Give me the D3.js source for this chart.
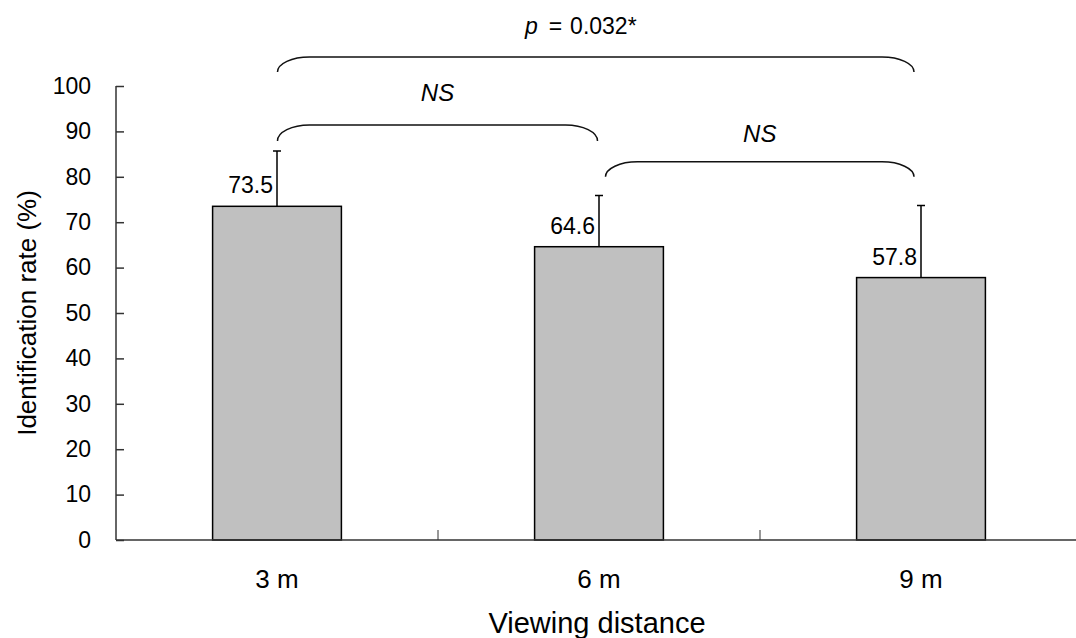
<!DOCTYPE html>
<meta charset="utf-8">
<style>
  body { margin: 0; background: #fff; }
  svg text { font-family: "Liberation Sans", Arial, sans-serif; fill: #000; }
</style>
<body>
<div id="chart"></div>

<script src="https://d3js.org/d3.v7.min.js"></script>
<script>
// data
var categories = ["3 m", "6 m", "9 m"];
var means = [73.5, 64.6, 57.8];
var sds = [12.2, 11.3, 15.9];
var yTicks = [0, 10, 20, 30, 40, 50, 60, 70, 80, 90, 100];

// pairwise comparisons (indices into categories)
var compFrom = [0, 0, 1];
var compTo = [2, 1, 2];
var compLabels = ["p = 0.032*", "NS", "NS"];

var margin = {top: 86, right: -6, bottom: 98, left: 116},
    width = 1076 - margin.left - margin.right,
    height = 638 - margin.top - margin.bottom;

var x = d3.scaleBand().domain(categories).range([0, width]).padding(0);
var y = d3.scaleLinear().domain([0, 100]).range([height, 0]);
var barW = x.bandwidth() * 0.4;
var cx = function(i) { return x(categories[i]) + x.bandwidth() / 2; };

var svg = d3.select("#chart").append("svg")
    .attr("width", 1076)
    .attr("height", 638)
  .append("g")
    .attr("transform", "translate(" + margin.left + "," + margin.top + ")");

// bars
svg.selectAll(".bar")
    .data(means)
  .enter().append("rect")
    .attr("class", "bar")
    .attr("x", function(d, i) { return cx(i) - barW / 2; })
    .attr("y", function(d) { return y(d); })
    .attr("width", barW)
    .attr("height", function(d) { return height - y(d); })
    .style("fill", "#c0c0c0")
    .style("stroke", "#000")
    .style("stroke-width", "1.5px");

// error bars (upper only)
svg.selectAll(".err")
    .data(means)
  .enter().append("path")
    .attr("class", "err")
    .attr("d", function(d, i) {
      var top = y(d + sds[i]);
      return "M" + cx(i) + "," + y(d) + "V" + top +
             "M" + (cx(i) - 4) + "," + top + "H" + (cx(i) + 4);
    })
    .style("fill", "none")
    .style("stroke", "#000")
    .style("stroke-width", "1.5px");

// value labels
svg.selectAll(".val")
    .data(means)
  .enter().append("text")
    .attr("class", "val")
    .attr("x", function(d, i) { return cx(i) - 4; })
    .attr("y", function(d) { return y(d) - 13; })
    .attr("text-anchor", "end")
    .style("font-size", "23px")
    .text(function(d) { return d.toFixed(1); });

// y axis
var yAxis = svg.append("g")
    .call(d3.axisLeft(y).tickValues(yTicks).tickSize(-8).tickPadding(25));
yAxis.selectAll("text").style("font-size", "23px");
yAxis.select(".domain").attr("d", "M0," + height + "V0").style("stroke", "#333").style("stroke-width", "1.5px");
yAxis.selectAll(".tick line").style("stroke", "#333").style("stroke-width", "1.5px");

// x axis line with ticks at category boundaries
svg.append("line")
    .attr("x1", 0).attr("x2", width)
    .attr("y1", height).attr("y2", height)
    .style("stroke", "#333").style("stroke-width", "1.5px");
svg.selectAll(".xtick")
    .data(categories.slice(1))
  .enter().append("line")
    .attr("x1", function(d) { return x(d); })
    .attr("x2", function(d) { return x(d); })
    .attr("y1", height).attr("y2", height - 10)
    .style("stroke", "#333").style("stroke-width", "1px");

// category labels
svg.selectAll(".cat")
    .data(categories)
  .enter().append("text")
    .attr("x", function(d, i) { return cx(i); })
    .attr("y", height + 48)
    .attr("text-anchor", "middle")
    .style("font-size", "26px")
    .text(function(d) { return d; });

// axis titles
svg.append("text")
    .attr("x", 597 - margin.left)
    .attr("y", height + 93)
    .attr("text-anchor", "middle")
    .style("font-size", "29px")
    .text("Viewing distance");

svg.append("text")
    .attr("transform", "translate(" + (27 - margin.left) + "," + (height / 2) + ") rotate(-90)")
    .attr("dy", "0.35em")
    .attr("text-anchor", "middle")
    .style("font-size", "26px")
    .text("Identification rate (%)");

// comparison braces: level = brace top, end = brace tips, lab = label baseline (data units)
var braceTop = [106.4, 91.4, 83.3];
var braceEnd = [103.1, 87.9, 80.0];
var labelY = [111.5, 96.7, 87.7];
var endOffsets = [[0.5, -7], [0.5, -1.5], [6.5, -7]];
var rx = 32;

compLabels.forEach(function(lab, k) {
  var x1 = cx(compFrom[k]) + endOffsets[k][0],
      x2 = cx(compTo[k]) + endOffsets[k][1],
      yt = y(braceTop[k]), ye = y(braceEnd[k]), ry = ye - yt;
  svg.append("path")
      .attr("d", "M" + x1 + "," + ye +
                 "A" + rx + "," + ry + " 0 0 1 " + (x1 + rx) + "," + yt +
                 "H" + (x2 - rx) +
                 "A" + rx + "," + ry + " 0 0 1 " + x2 + "," + ye)
      .style("fill", "none")
      .style("stroke", "#111")
      .style("stroke-width", "1.5px");

  var t = svg.append("text")
      .attr("y", y(labelY[k]))
      .attr("text-anchor", "middle");
  if (lab === "NS") {
    t.attr("x", (x1 + x2) / 2)
     .style("font-size", "24px")
     .style("font-style", "italic")
     .text(lab);
  } else {
    var mid = (x1 + x2) / 2 - 15;
    t.attr("x", mid).style("font-size", "23px");
    t.append("tspan").style("font-style", "italic").text("p");
    t.append("tspan").attr("dx", 11).text("=");
    t.append("tspan").attr("dx", 8).text("0.032*");
  }
});
</script>
</body>
